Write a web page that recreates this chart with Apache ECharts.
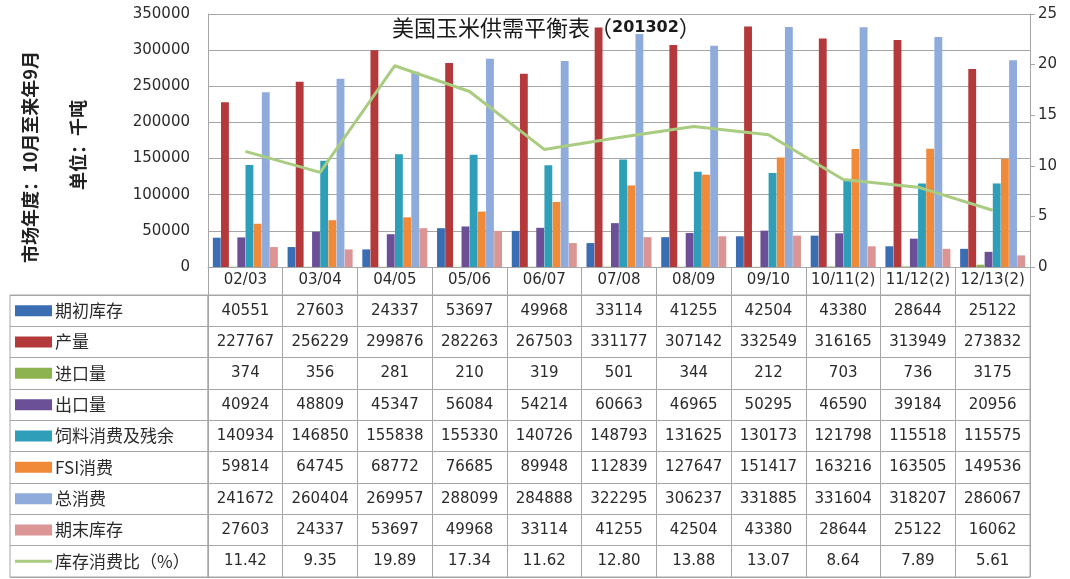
<!DOCTYPE html>
<html><head><meta charset="utf-8">
<script src="https://cdn.jsdelivr.net/npm/echarts@6/dist/echarts.min.js"></script>
<style>html,body{margin:0;padding:0;background:#fff}#c{width:1070px;height:579px}</style>
</head><body><div id="c"></div>
<script>
const categories = ['02/03','03/04','04/05','05/06','06/07','07/08','08/09','09/10','10/11(2)','11/12(2)','12/13(2)'];
const beginStock = [40551,27603,24337,53697,49968,33114,41255,42504,43380,28644,25122];
const production = [227767,256229,299876,282263,267503,331177,307142,332549,316165,313949,273832];
const imports = [374,356,281,210,319,501,344,212,703,736,3175];
const exportsQ = [40924,48809,45347,56084,54214,60663,46965,50295,46590,39184,20956];
const feedUse = [140934,146850,155838,155330,140726,148793,131625,130173,121798,115518,115575];
const fsiUse = [59814,64745,68772,76685,89948,112839,127647,151417,163216,163505,149536];
const totalUse = [241672,260404,269957,288099,284888,322295,306237,331885,331604,318207,286067];
const endStock = [27603,24337,53697,49968,33114,41255,42504,43380,28644,25122,16062];
const stockRatio = [11.42,9.35,19.89,17.34,11.62,12.80,13.88,13.07,8.64,7.89,5.61];
const seriesNames = ['期初库存','产量','进口量','出口量','饲料消费及残余','FSI消费','总消费','期末库存','库存消费比（%）'];
const colors = ['#3b6db3','#b3393b','#8db350','#6b4f97','#2f9fb9','#f08a38','#8eabdc','#da9594','#a9cc80'];

const barData = [beginStock, production, imports, exportsQ, feedUse, fsiUse, totalUse, endStock];
const tableRows = barData.map(a => a.map(v => String(v))).concat([stockRatio.map(v => v.toFixed(2))]);
const tableCells = [];
tableRows.forEach((row, r) => row.forEach((t, c) => tableCells.push({value: [c, r], text: t})));

const chart = echarts.init(document.getElementById('c'));
const FONT_NUM = 'DejaVu Sans';
const FONT_CJK = '"Noto Sans CJK SC", sans-serif';
const GRID_C = '#a6a6a6';
const TXT = '#2b2b2b';

const rich = { t: { fontSize: 17, fontFamily: FONT_CJK, color: TXT, padding: [0,0,0,3] } };
colors.forEach((c, i) => {
  rich['s' + i] = { width: 37, height: i === 8 ? 3 : 11, backgroundColor: c };
});

const series = barData.map((d, i) => ({
  name: seriesNames[i], type: 'bar', xAxisIndex: 0, yAxisIndex: 0,
  data: d, itemStyle: { color: colors[i] },
  barCategoryGap: '13%', barGap: '4%', silent: true
}));
series.push({
  name: seriesNames[8], type: 'line', xAxisIndex: 0, yAxisIndex: 1,
  data: stockRatio, symbol: 'none', lineStyle: { color: colors[8], width: 3 }, z: 5, silent: true
});
series.push({
  type: 'custom', xAxisIndex: 1, yAxisIndex: 2, silent: true,
  data: tableCells,
  renderItem: function (params, api) {
    const p = api.coord([api.value(0), api.value(1)]);
    return { type: 'text', x: p[0], y: p[1],
      style: { text: tableCells[params.dataIndex].text, align: 'center', verticalAlign: 'middle',
        font: '15px "DejaVu Sans"', fill: TXT } };
  }
});

chart.setOption({
  animation: false,
  backgroundColor: '#fff',
  grid: [
    { left: 208, right: 40, top: 14, height: 253 },
    { left: 208, right: 40, top: 295, height: 282, show: true, borderColor: GRID_C, borderWidth: 1 },
    { left: 10, width: 198, top: 295, height: 282, show: true, borderColor: GRID_C, borderWidth: 1 }
  ],
  xAxis: [
    { type: 'category', gridIndex: 0, data: categories,
      axisLine: { show: true, lineStyle: { color: GRID_C } },
      axisTick: { show: true, length: 28, interval: 0, lineStyle: { color: GRID_C } },
      axisLabel: { interval: 0, margin: 6, fontSize: 15, fontFamily: FONT_NUM, color: TXT } },
    { type: 'category', gridIndex: 1, data: categories,
      axisLine: { show: false }, axisTick: { show: false }, axisLabel: { show: false },
      splitLine: { show: true, interval: 0, lineStyle: { color: GRID_C } } },
    { type: 'value', gridIndex: 2, min: 0, max: 1, show: false }
  ],
  yAxis: [
    { type: 'value', gridIndex: 0, min: 0, max: 350000, interval: 50000,
      axisLine: { show: true, lineStyle: { color: GRID_C } }, axisTick: { show: false },
      splitLine: { show: true, lineStyle: { color: GRID_C } },
      axisLabel: { margin: 18, fontSize: 15, fontFamily: FONT_NUM, color: TXT, formatter: v => String(v) } },
    { type: 'value', gridIndex: 0, position: 'right', min: 0, max: 25, interval: 5,
      axisLine: { show: true, lineStyle: { color: GRID_C } },
      axisTick: { show: true, length: 5, lineStyle: { color: GRID_C } },
      splitLine: { show: false },
      axisLabel: { margin: 8, fontSize: 15, fontFamily: FONT_NUM, color: TXT } },
    { type: 'category', gridIndex: 1, data: seriesNames, inverse: true,
      axisLine: { show: false }, axisTick: { show: false }, axisLabel: { show: false },
      splitLine: { show: true, interval: 0, lineStyle: { color: GRID_C } } },
    { type: 'category', gridIndex: 2, data: seriesNames, inverse: true,
      axisLine: { show: false }, axisTick: { show: false },
      splitLine: { show: true, interval: 0, lineStyle: { color: GRID_C } },
      axisLabel: { inside: true, margin: 5, align: 'left', interval: 0,
        formatter: (v, i) => '{s' + i + '|}{t|' + v + '}', rich: rich } }
  ],
  series: series,
  graphic: [
    { type: 'text', x: 392, y: 28, z: 100, silent: true,
      style: { text: '{a|美国玉米供需平衡表（}{d|201302}{a|）}', verticalAlign: 'middle',
        rich: { a: { fontSize: 22, fontFamily: FONT_CJK, fill: '#1a1a1a', color: '#1a1a1a' },
                d: { fontSize: 16, fontWeight: 'bold', fontFamily: 'DejaVu Sans', fill: '#1a1a1a', color: '#1a1a1a' } } } },
    { type: 'text', x: 30, y: 157, rotation: Math.PI / 2, silent: true,
      style: { text: '市场年度：10月至来年9月', align: 'center', verticalAlign: 'middle',
        font: 'bold 18px ' + FONT_CJK, fill: '#222' } },
    { type: 'text', x: 78, y: 145, rotation: Math.PI / 2, silent: true,
      style: { text: '单位：千吨', align: 'center', verticalAlign: 'middle',
        font: 'bold 18px ' + FONT_CJK, fill: '#222' } }
  ]
});
</script></body></html>
